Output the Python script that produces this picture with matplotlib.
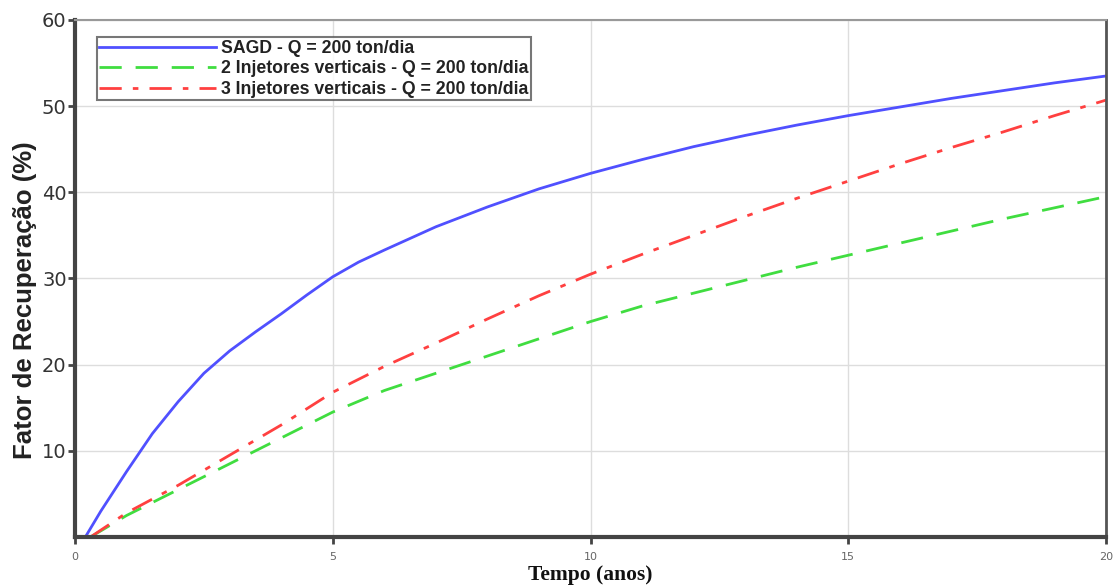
import matplotlib
matplotlib.use("Agg")
import matplotlib.pyplot as plt

# Data (years, recovery factor %)
t_sagd = [0.2, 0.5, 1, 1.5, 2, 2.5, 3, 3.5, 4, 4.5, 5, 5.5, 6, 7, 8, 9, 10, 11, 12, 13, 14, 15, 16, 17, 18, 19, 20]
fr_sagd = [0, 3, 7.6, 12, 15.7, 19, 21.6, 23.8, 25.9, 28.1, 30.2, 31.9, 33.3, 36, 38.3, 40.4, 42.2, 43.8, 45.3, 46.6, 47.8, 48.9, 49.9, 50.9, 51.8, 52.7, 53.5]

t_2inj = [0.3, 1, 2, 3, 4, 5, 6, 7, 8, 9, 10, 11, 12, 13, 14, 15, 16, 17, 18, 19, 20]
fr_2inj = [0, 2.5, 5.5, 8.5, 11.5, 14.5, 17, 19, 21, 23, 25, 26.8, 28.3, 29.8, 31.3, 32.7, 34.1, 35.5, 36.9, 38.2, 39.5]

t_3inj = [0.3, 1, 2, 3, 4, 5, 6, 7, 8, 9, 10, 11, 12, 13, 14, 15, 16, 17, 18, 19, 20]
fr_3inj = [0, 2.8, 6, 9.5, 13, 16.8, 19.8, 22.5, 25.3, 28, 30.5, 32.8, 35, 37.2, 39.3, 41.3, 43.3, 45.2, 47, 48.9, 50.7]

labels = ["SAGD - Q = 200 ton/dia",
          "2 Injetores verticais - Q = 200 ton/dia",
          "3 Injetores verticais - Q = 200 ton/dia"]
xticks = [0, 5, 10, 15, 20]
yticks = [10, 20, 30, 40, 50, 60]

fig = plt.figure(figsize=(11.2, 5.86), dpi=100)
ax = fig.add_axes([0.067, 0.0836, 0.9205, 0.8823])

ax.plot(t_sagd, fr_sagd, color="#5050ff", lw=2, label=labels[0])
ax.plot(t_2inj, fr_2inj, color="#40dd40", lw=2, dashes=(8, 5), label=labels[1])
ax.plot(t_3inj, fr_3inj, color="#ff4040", lw=2, dashes=(8, 4, 2, 4), label=labels[2])

ax.set_xlim(0, 20)
ax.set_ylim(0, 60)
ax.set_xticks(xticks)
ax.set_yticks(yticks)
ax.tick_params(axis="x", labelsize=8, labelcolor="#666666", length=5, width=2, color="#444444", pad=6)
ax.tick_params(axis="y", labelsize=14, labelcolor="#333333", length=5, width=2, color="#444444", pad=1)
ax.grid(True, color="#dddddd", lw=1)
ax.set_axisbelow(True)

for s in ["left", "bottom"]:
    ax.spines[s].set_color("#444444")
    ax.spines[s].set_linewidth(3)
ax.spines["right"].set_color("#555555")
ax.spines["right"].set_linewidth(2)
ax.spines["top"].set_color("#999999")
ax.spines["top"].set_linewidth(1.5)

ax.set_ylabel("Fator de Recuperação (%)", fontsize=18.5, fontweight="bold",
              family=["Liberation Sans", "DejaVu Sans"], color="#222222")
ax.yaxis.set_label_coords(-0.037, 0.458)
ax.set_xlabel("Tempo (anos)", fontsize=15.5, fontweight="bold",
              family=["Liberation Serif", "DejaVu Serif"], color="#111111", labelpad=2)

leg = ax.legend(loc="upper left", bbox_to_anchor=(0.021, 0.967),
                prop={"family": "Liberation Sans", "size": 12.7, "weight": "bold"},
                frameon=True, fancybox=False, edgecolor="#555555",
                handlelength=6.6, handletextpad=0.3, labelspacing=0.2,
                borderpad=0.15, borderaxespad=0)
leg.get_frame().set_linewidth(1.5)
for txt in leg.get_texts():
    txt.set_color("#222222")

fig.savefig("out.png", dpi=100)
